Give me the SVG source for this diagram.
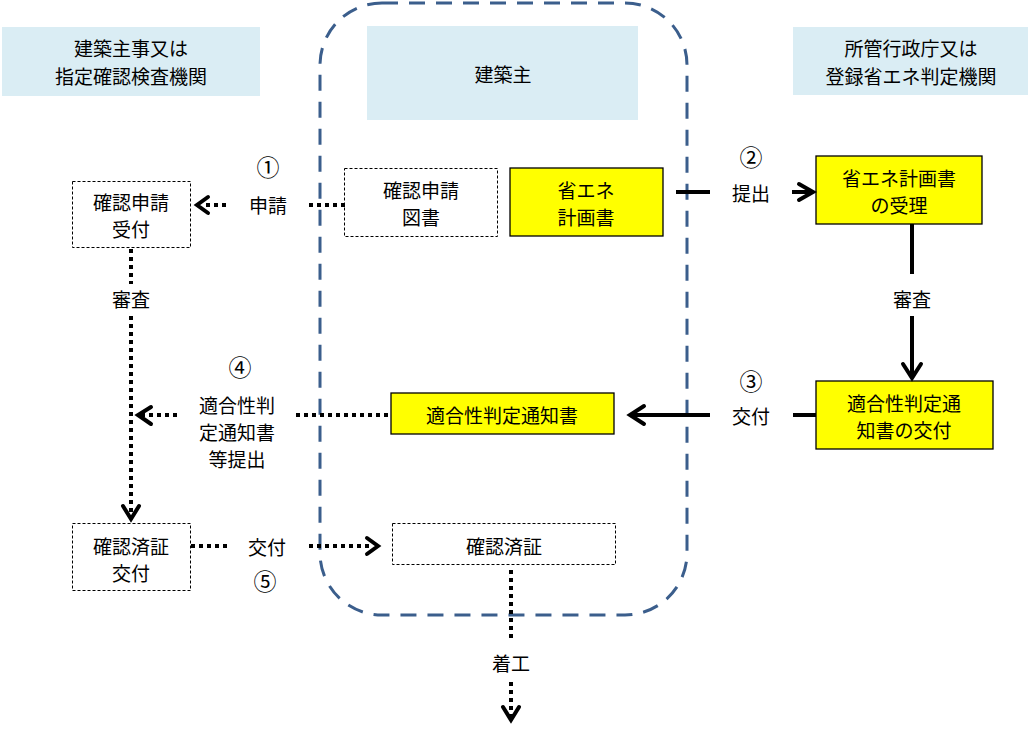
<svg xmlns="http://www.w3.org/2000/svg" width="1030" height="747" viewBox="0 0 1030 747">
<style>
text{font-family:"Noto Sans CJK JP","Noto Sans",sans-serif;font-size:19px;fill:#000;text-anchor:middle;dominant-baseline:central}
.num{font-size:23px}
.hdr{fill:#DAEDF4;stroke:none}
.dbox{fill:#fff;stroke:#000;stroke-width:1;stroke-dasharray:3 2}
.ybox{fill:#FFFF00;stroke:#000;stroke-width:1.3}
.dot{fill:none;stroke:#000;stroke-width:4;stroke-dasharray:4 4}
.sol{fill:none;stroke:#000;stroke-width:4}
.ah{fill:none;stroke:#000;stroke-width:4;stroke-linecap:round;stroke-linejoin:miter}
</style>
<rect x="0" y="0" width="1030" height="747" fill="#fff"/>
<g id="owner-frame">
<rect x="320" y="3" width="367" height="612" rx="62" ry="62" fill="none" stroke="#3B5E8C" stroke-width="3" stroke-dasharray="16 11"/>
</g>
<g id="hdr-left"><rect class="hdr" x="2" y="27" width="258" height="69"/><text x="131" y="47">建築主事又は</text><text x="131" y="75">指定確認検査機関</text></g>
<g id="hdr-center"><rect class="hdr" x="367" y="26" width="271" height="94"/><text x="503" y="73">建築主</text></g>
<g id="hdr-right"><rect class="hdr" x="793" y="27" width="235" height="68"/><text x="911" y="47">所管行政庁又は</text><text x="911" y="75">登録省エネ判定機関</text></g>

<g id="n-uketsuke"><rect class="dbox" x="72.5" y="181.5" width="118" height="66"/><text x="131" y="201">確認申請</text><text x="131" y="228">受付</text></g>
<g id="n-tosho"><rect class="dbox" x="344.5" y="168.5" width="153" height="68"/><text x="421" y="189">確認申請</text><text x="421" y="216">図書</text></g>
<g id="n-keikaku"><rect class="ybox" x="510" y="168" width="153" height="68"/><text x="586" y="189">省エネ</text><text x="586" y="216">計画書</text></g>
<g id="n-juri"><rect class="ybox" x="816" y="156" width="166" height="68"/><text x="899" y="177">省エネ計画書</text><text x="899" y="204">の受理</text></g>
<g id="n-kofu"><rect class="ybox" x="816" y="381" width="177" height="68"/><text x="904" y="402">適合性判定通</text><text x="904" y="429">知書の交付</text></g>
<g id="n-tsuchi"><rect class="ybox" x="391" y="393" width="223" height="41"/><text x="502" y="414">適合性判定通知書</text></g>
<g id="n-sumisho-kofu"><rect class="dbox" x="72.5" y="523.5" width="118" height="67"/><text x="131" y="545">確認済証</text><text x="131" y="572">交付</text></g>
<g id="n-sumisho"><rect class="dbox" x="392.5" y="523.5" width="223" height="41"/><text x="504" y="545">確認済証</text></g>

<g id="connectors">
<line class="dot" x1="345" y1="205" x2="308" y2="205"/>
<line class="dot" x1="226" y1="205" x2="204" y2="205"/>
<polyline class="ah" points="208,197 197,205 208,213"/>
<line class="sol" x1="676" y1="192" x2="710" y2="192"/>
<line class="sol" x1="792" y1="192" x2="812" y2="192"/>
<polyline class="ah" points="799,184 813,192 799,200"/>
<line class="sol" x1="912" y1="224" x2="912" y2="274"/>
<line class="sol" x1="912" y1="316" x2="912" y2="376"/>
<polyline class="ah" points="903,364 912,378 921,364"/>
<line class="sol" x1="816" y1="415" x2="793" y2="415"/>
<line class="sol" x1="710" y1="415" x2="632" y2="415"/>
<polyline class="ah" points="644,406 630,415 644,424"/>
<line class="dot" x1="388" y1="415" x2="296" y2="415"/>
<line class="dot" x1="177" y1="415" x2="140" y2="415"/>
<polyline class="ah" points="151,407 138,415 151,424"/>
<line class="dot" x1="131" y1="249" x2="131" y2="284"/>
<line class="dot" x1="131" y1="316" x2="131" y2="518"/>
<polyline class="ah" points="123,506 131,519 139,506"/>
<line class="dot" x1="191" y1="546" x2="228" y2="546"/>
<line class="dot" x1="309" y1="546" x2="373" y2="546"/>
<polyline class="ah" points="367,538 378,546 367,554"/>
<line class="dot" x1="511" y1="570" x2="511" y2="641"/>
<line class="dot" x1="511" y1="682" x2="511" y2="716"/>
<polyline class="ah" points="503,707 511,720 519,707"/>
</g>

<g id="labels">
<text class="num" x="268" y="166">①</text>
<text x="268" y="204">申請</text>
<text class="num" x="751" y="156">②</text>
<text x="751" y="192">提出</text>
<text x="912" y="298">審査</text>
<text class="num" x="751" y="380">③</text>
<text x="751" y="415">交付</text>
<text class="num" x="240" y="366">④</text>
<text x="237" y="404">適合性判</text>
<text x="237" y="431">定通知書</text>
<text x="237" y="458">等提出</text>
<text x="131" y="298">審査</text>
<text x="267" y="546">交付</text>
<text class="num" x="265" y="580">⑤</text>
<text x="511" y="662">着工</text>
</g>
</svg>
